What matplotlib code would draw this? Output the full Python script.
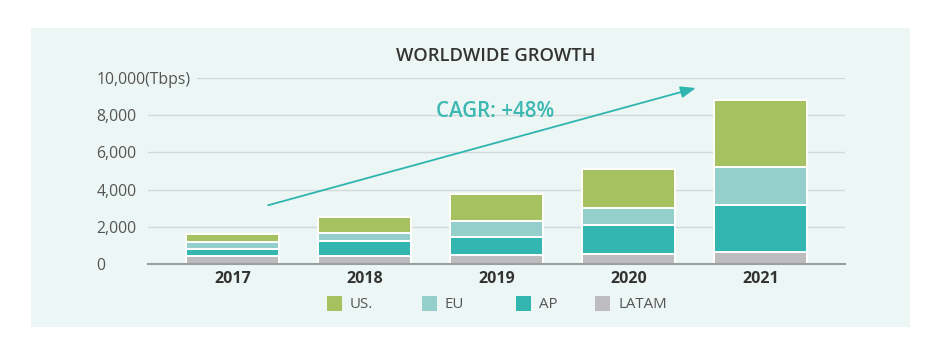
import matplotlib.pyplot as plt
from matplotlib.patches import Rectangle

# data (Tbps)
years = ["2017", "2018", "2019", "2020", "2021"]
latam = [450, 450, 500, 520, 620]
ap = [370, 810, 930, 1600, 2560]
eu = [380, 410, 900, 910, 2060]
us = [430, 880, 1430, 2060, 3600]
y_ticks = [0, 2000, 4000, 6000, 8000, 10000]
y_labels = ["0", "2,000", "4,000", "6,000", "8,000", "10,000(Tbps)"]

series = [("LATAM", latam, "#bdbdc0"),
          ("AP", ap, "#33b5b0"),
          ("EU", eu, "#94cfcc"),
          ("US.", us, "#a6c260")]

plt.rcParams['font.family'] = ['Open Sans', 'DejaVu Sans']

W, H = 926, 355
fig = plt.figure(figsize=(W / 100, H / 100), dpi=100, facecolor="white")

# light panel behind the chart
fig.patches.append(Rectangle((31 / W, 1 - 327 / H), (910 - 31) / W, (327 - 28) / H,
                             transform=fig.transFigure, facecolor="#ecf6f4",
                             edgecolor="none", zorder=-5))

ax = fig.add_axes([148 / W, 1 - 264 / H, (845 - 148) / W, (264 - 78) / H])
ax.set_facecolor("none")
ax.set_zorder(1)

x = list(range(len(years)))
bottom = [0] * len(years)
for name, vals, col in series:
    ax.bar(x, vals, 0.7, bottom=bottom, color=col, edgecolor="white",
           linewidth=1.4, zorder=3)
    bottom = [b + v for b, v in zip(bottom, vals)]

ax.set_xlim(-0.64, len(years) - 1 + 0.64)
ax.set_ylim(0, 10000)

# gridlines (top one starts after the unit label)
for t in y_ticks[1:]:
    xmin = 0.07 if t == y_ticks[-1] else 0
    ax.axhline(t, xmin=xmin, xmax=1, color="#d3d9d9", linewidth=1, zorder=1)

ax.set_yticks(y_ticks, y_labels)
for lab in ax.get_yticklabels():
    lab.set_horizontalalignment("left")
ax.tick_params(axis="y", length=0, pad=37, labelsize=11.3, labelcolor="#555555")
ax.set_xticks(x, years)
ax.tick_params(axis="x", length=0, pad=5, labelsize=11.5, labelcolor="#333333")
for lab in ax.get_xticklabels():
    lab.set_fontweight("bold")

for s in ["top", "right", "left"]:
    ax.spines[s].set_visible(False)
ax.spines["bottom"].set_color("#9a9e9e")
ax.spines["bottom"].set_linewidth(1.5)
ax.spines["bottom"].set_zorder(4)

# growth arrow + CAGR label
ax.annotate("", xy=(3.53, 9500), xytext=(0.25, 3120),
            arrowprops=dict(arrowstyle="-|>,head_length=0.9,head_width=0.35",
                            color="#2fb5b0", linewidth=1.3), zorder=5)
ax.text(1.99, 8200, "CAGR: +48%", ha="center", va="center", fontsize=14.8,
        fontweight="semibold", color="#3cb8b2", zorder=6)

fig.text(496 / W, 1 - 56 / H, "WORLDWIDE GROWTH", ha="center", va="center",
         fontsize=13.2, fontweight="semibold", color="#333333")

# legend drawn by hand to match spacing
leg_x = [327, 422, 516, 595]
for (name, vals, col), lx in zip(series[::-1], leg_x):
    fig.patches.append(Rectangle((lx / W, 1 - 311 / H), 15 / W, 15 / H,
                                 transform=fig.transFigure, facecolor=col,
                                 edgecolor="none", zorder=2))
    fig.text((lx + 23) / W, 1 - 304 / H, name, ha="left", va="center",
             fontsize=10.8, color="#555555")

fig.savefig("out.png", dpi=100)
